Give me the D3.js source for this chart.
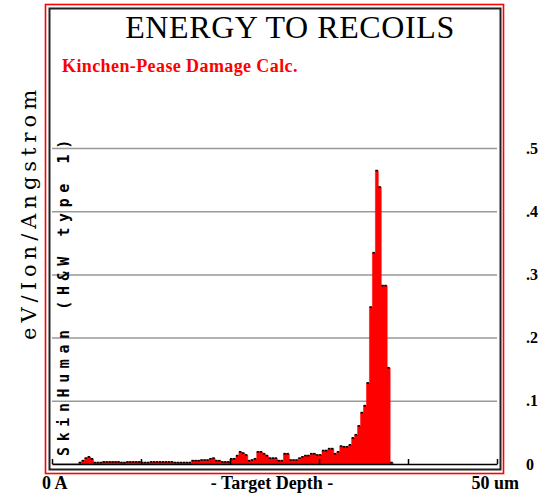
<!DOCTYPE html>
<html>
<head>
<meta charset="utf-8">
<script src="https://cdn.jsdelivr.net/npm/d3@7"></script>
<style>
  body { margin: 0; background: #fff; }
  svg { display: block; }
</style>
</head>
<body>
<svg width="542" height="494"></svg>
<script>
// energy to recoils, eV/Ion/Angstrom, one value per depth bin (bins of 1/3 um)
const depthMax = 50;
const binCount = 150;
const recoilEnergy = [
    0, 0, 0, 0, 0, 0, 0, 0, 0, .002,
    .005, .009, .011, .008, .002, .002, .002, .003, .003, .003,
    .003, .003, .003, .002, .002, .003, .003, .003, .003, .003,
    .002, .002, .002, .003, .003, .003, .003, .003, .003, .003,
    .003, .002, .002, .002, .002, .002, .002, .005, .005, .005,
    .006, .006, .006, .008, .009, .005, .005, .003, .003, .003,
    .008, .008, .013, .019, .017, .014, .005, .006, .008, .019,
    .019, .016, .013, .009, .009, .009, .005, .005, .016, .016,
    .006, .006, .006, .009, .011, .013, .013, .016, .016, .014,
    .014, .021, .021, .024, .024, .016, .019, .028, .027, .027,
    .030, .041, .046, .060, .081, .092, .128, .248, .334, .464,
    .438, .282, .282, .152, .002
];
const yTicks = [0, .1, .2, .3, .4, .5];
const yTickLabels = ['0', '.1', '.2', '.3', '.4', '.5'];
const xTicks = [0, 10, 20, 30, 40, 50];

const svg = d3.select('svg');
const serif = '"Liberation Serif", "Times New Roman", serif';

const x = d3.scaleLinear().domain([0, depthMax]).range([52, 497]);
const y = d3.scaleLinear().domain([0, .5]).range([464, 148]);
const binWidth = depthMax / binCount;

// frames
svg.append('rect').attr('x', 45.5).attr('y', 4.5).attr('width', 458).attr('height', 469)
    .attr('fill', 'none').attr('stroke', '#ff0000').attr('stroke-width', 1.6);
svg.append('rect').attr('x', 49.5).attr('y', 8.5).attr('width', 451).attr('height', 461)
    .attr('fill', 'none').attr('stroke', '#222').attr('stroke-width', 2);

// gridlines
svg.append('g')
    .attr('transform', 'translate(52,0)')
    .call(d3.axisLeft(y).tickValues(yTicks.slice(1)).tickSize(-(497 - 52)).tickFormat(''))
    .call(g => g.select('.domain').remove())
    .call(g => g.selectAll('line').attr('stroke', '#999').attr('stroke-width', 1.5));

// right labels
svg.append('g')
    .attr('transform', 'translate(520,0)')
    .call(d3.axisRight(y).tickValues(yTicks).tickSize(0).tickPadding(6)
        .tickFormat((d, i) => yTickLabels[i]))
    .call(g => g.select('.domain').remove())
    .call(g => g.selectAll('text')
        .attr('font-family', serif).attr('font-weight', 'bold')
        .attr('font-size', 16).attr('fill', '#000'));

// step area
const pts = recoilEnergy.map((v, i) => ({ d: i * binWidth, v }));
pts.push({ d: recoilEnergy.length * binWidth, v: 0 });

const area = d3.area()
    .curve(d3.curveStepAfter)
    .x(p => x(p.d))
    .y0(y(0))
    .y1(p => y(p.v));

svg.append('path').datum(pts)
    .attr('d', area)
    .attr('fill', '#ff0000')
    .attr('stroke', '#ff0000')
    .attr('stroke-width', 0.5);

// small black marks at each bin top
svg.append('g').selectAll('rect')
    .data(pts.slice(0, -1).filter(p => p.v > 0))
    .join('rect')
    .attr('x', p => x(p.d))
    .attr('y', p => y(p.v) - 1)
    .attr('width', 2.5)
    .attr('height', 1.6)
    .attr('fill', '#000');

// bottom axis
svg.append('g')
    .attr('transform', 'translate(0,464)')
    .call(d3.axisTop(x).tickValues(xTicks).tickSize(5).tickSizeOuter(0).tickFormat(''))
    .call(g => g.select('.domain').attr('stroke', '#000').attr('stroke-width', 1.5))
    .call(g => g.selectAll('line').attr('stroke', '#000').attr('stroke-width', 1.5));

// titles
svg.append('text').attr('x', 290).attr('y', 38)
    .attr('text-anchor', 'middle')
    .attr('font-family', serif).attr('font-size', 32)
    .attr('letter-spacing', 0.6)
    .text('ENERGY TO RECOILS');

svg.append('text').attr('x', 62).attr('y', 72)
    .attr('font-family', serif).attr('font-weight', 'bold').attr('font-size', 18)
    .attr('letter-spacing', 0.4)
    .attr('fill', '#ff0000')
    .text('Kinchen-Pease Damage Calc.');

svg.append('text')
    .attr('transform', 'translate(36,340) rotate(-90)')
    .attr('font-family', '"DejaVu Serif", serif').attr('font-size', 21)
    .attr('letter-spacing', 5)
    .text('eV/Ion/Angstrom');

svg.append('text')
    .attr('transform', 'translate(69,456) rotate(-90)')
    .attr('font-family', '"DejaVu Sans Mono", monospace').attr('font-weight', 'bold')
    .attr('font-size', 15).attr('letter-spacing', 5.6)
    .text('SkinHuman (H&W type 1)');

// bottom labels
const bottom = svg.append('g')
    .attr('font-family', serif).attr('font-weight', 'bold').attr('font-size', 18);
bottom.append('text').attr('x', 42).attr('y', 489).text('0 A');
bottom.append('text').attr('x', 272).attr('y', 489).attr('text-anchor', 'middle').text('- Target Depth -');
bottom.append('text').attr('x', 519).attr('y', 489).attr('text-anchor', 'end').text('50 um');
</script>
</body>
</html>
